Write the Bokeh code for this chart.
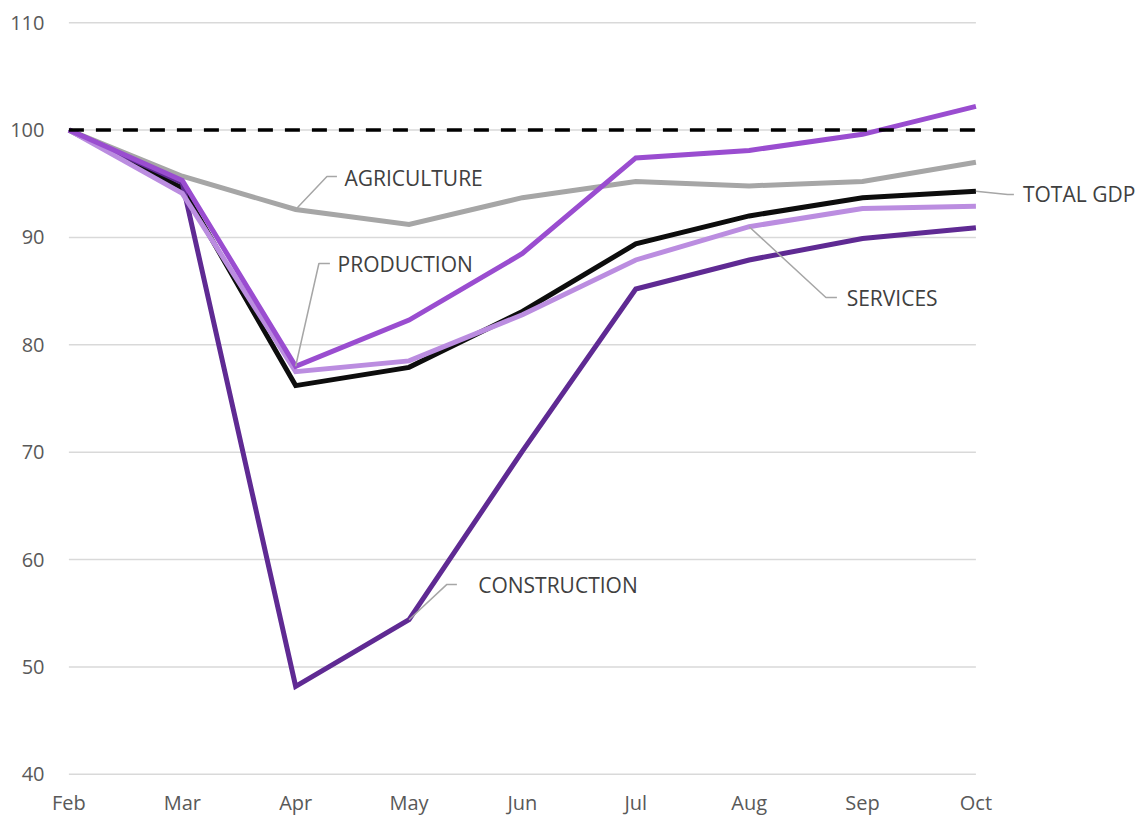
from bokeh.plotting import figure
from bokeh.models import Range1d, FixedTicker
from bokeh.embed import file_html
from bokeh.resources import INLINE
from bokeh.core.properties import value

# ---- data ----
months = ["Feb", "Mar", "Apr", "May", "Jun", "Jul", "Aug", "Sep", "Oct"]
agriculture = [100, 95.7, 92.6, 91.2, 93.7, 95.2, 94.8, 95.2, 97.0]
total_gdp = [100, 94.6, 76.2, 77.9, 83.1, 89.4, 92.0, 93.7, 94.3]
production = [100, 95.3, 78.0, 82.3, 88.5, 97.4, 98.1, 99.6, 102.2]
services = [100, 94.1, 77.5, 78.5, 82.8, 87.9, 91.0, 92.7, 92.9]
construction = [100, 95.1, 48.2, 54.4, 70.1, 85.2, 87.9, 89.9, 90.9]
reference = [100] * 9
y_ticks = [40, 50, 60, 70, 80, 90, 100, 110]

# series label annotations: (text, anchor month index, series, elbow x, elbow y, end x, text x, text y)
labels = [
    ("AGRICULTURE", 2, agriculture, 2.276, 95.67, 2.364, 2.43, 95.5),
    ("PRODUCTION", 2, production, 2.205, 87.57, 2.302, 2.37, 87.5),
    ("CONSTRUCTION", 3, construction, 3.334, 57.69, 3.422, 3.61, 57.6),
    ("SERVICES", 6, services, 6.677, 84.40, 6.774, 6.86, 84.4),
    ("TOTAL GDP", 8, total_gdp, 8.28, 94.0, 8.335, 8.415, 94.0),
]

x = list(range(len(months)))
PX = 113.375
PY = 10.743
x0, x1 = -0.03, 9.434
y0, y1 = 39.8, 110.2

FONT = "Open Sans"

p = figure(
    output_backend="svg",
    toolbar_location=None,
    x_range=Range1d(x0, x1),
    y_range=Range1d(y0, y1),
    frame_width=int(round((x1 - x0) * PX)),
    frame_height=int(round((y1 - y0) * PY)),
    min_border_left=65,
    min_border_right=0,
    min_border_top=20,
    min_border_bottom=30,
)
p.outline_line_color = None
p.background_fill_color = "white"
p.border_fill_color = "white"
p.xgrid.visible = False
p.ygrid.visible = False

# gridlines (end at Oct)
p.segment(x0=[0] * len(y_ticks), x1=[len(months) - 1] * len(y_ticks), y0=y_ticks, y1=y_ticks,
          line_color="#d9d9d9", line_width=1.5)

# axes
p.yaxis.ticker = FixedTicker(ticks=y_ticks)
p.xaxis.ticker = FixedTicker(ticks=x)
p.xaxis.major_label_overrides = {i: m for i, m in enumerate(months)}
for ax in (p.xaxis, p.yaxis):
    ax.axis_line_color = None
    ax.major_tick_line_color = None
    ax.minor_tick_line_color = None
    ax.major_tick_out = 0
    ax.major_tick_in = 0
    ax.major_label_text_font = FONT
    ax.major_label_text_font_size = "20px"
    ax.major_label_text_color = "#595959"
p.yaxis.major_label_standoff = 21
p.xaxis.major_label_standoff = 12

# series
W = 5
p.line(x, agriculture, line_color="#a6a6a6", line_width=W, line_join="miter")
p.line(x, total_gdp, line_color="#0d0d0d", line_width=W, line_join="miter")
p.line(x, construction, line_color="#5f2a93", line_width=W, line_join="miter")
p.line(x, services, line_color="#bb8de0", line_width=W, line_join="miter")
p.line(x, production, line_color="#9a4dd0", line_width=W, line_join="miter")
p.line(x, reference, line_color="black", line_width=3.5, line_dash="15 12")

# leader lines and labels
for text, idx, series, ex, ey, endx, tx, ty in labels:
    p.line([idx, ex, endx], [series[idx], ey, ey], line_color="#a6a6a6", line_width=1.5)
    p.text(x=[tx], y=[ty], text=[text], text_font=value(FONT), text_font_size="21px",
           text_color="#404040", text_baseline="middle", text_align="left")

open("out.html", "w").write(file_html(p, INLINE))
